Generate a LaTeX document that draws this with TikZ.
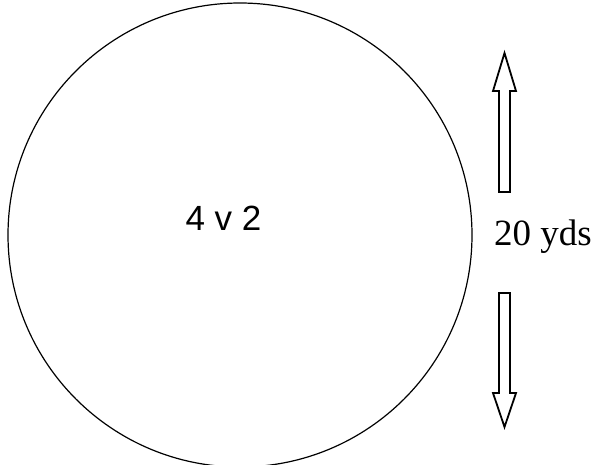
\documentclass[tikz,border=0pt]{standalone}
\usepackage{fontspec}
\setmainfont{Liberation Serif}
\newfontfamily\arialfont{Liberation Sans}
\begin{document}
\begin{tikzpicture}[x=1pt,y=-1pt]
        \useasboundingbox (0,0) rectangle (596,464);
        \begin{scope}
        \clip (0,0) rectangle (596,464);
        \draw[line width=1.2pt] (240,235) circle (232);
        \end{scope}
        \node[anchor=base,inner sep=0pt] (players) at (223.5,230)
            {\arialfont\fontsize{35}{42}\selectfont 4 v 2};
        \node[anchor=base west,inner sep=0pt] (dist) at (494,245)
            {\fontsize{37}{44}\selectfont 20 yds};
        \draw[line width=1.8pt,line join=miter] (499,192) -- (499,91) -- (493,91) -- (504.5,53)
            -- (516,91) -- (510,91) -- (510,192) -- cycle;
        \draw[line width=1.8pt,line join=miter] (499,293) -- (499,393) -- (493,393) -- (504.5,427)
            -- (516,393) -- (510,393) -- (510,293) -- cycle;
    \end{tikzpicture}
\end{document}
